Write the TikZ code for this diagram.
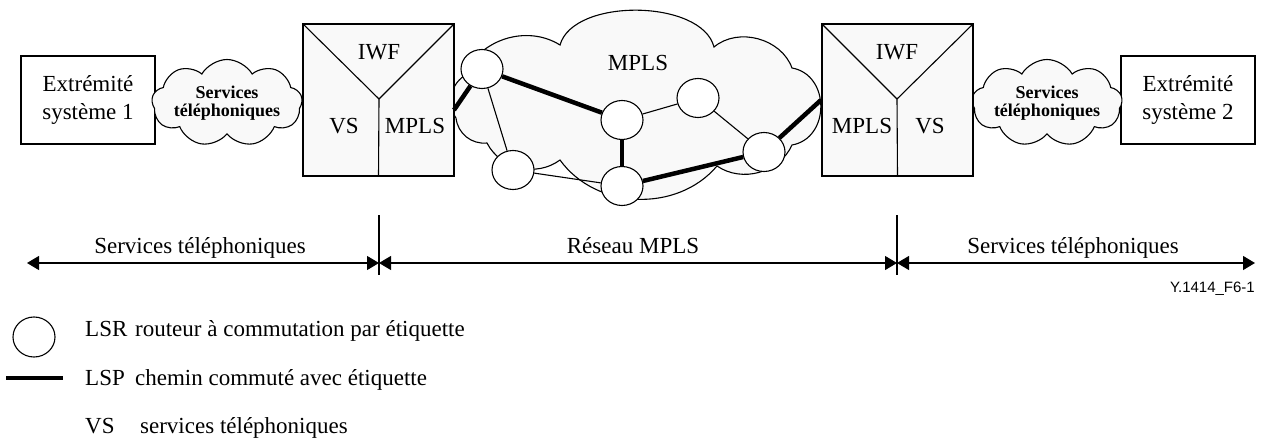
\documentclass[tikz,border=0pt]{standalone}
\usepackage{fontspec}
\setmainfont{Liberation Serif}
\newfontfamily\figsans{Liberation Sans}
\usetikzlibrary{arrows.meta,shapes.geometric,shapes.symbols}

\begin{document}
\begin{tikzpicture}[x=1pt,y=-1pt,
  lbl/.style={font=\fontsize{23}{28}\selectfont, inner sep=0pt},
  endbox/.style={draw, line width=1.2pt, minimum width=134pt, minimum height=88pt,
    align=center, lbl},
  gwbox/.style={draw, line width=1.2pt, fill=gray!5, minimum width=151pt, minimum height=152pt},
  svccloud/.style={cloud, cloud puffs=9, cloud puff arc=120, cloud ignores aspect,
    draw, line width=1.1pt, fill=gray!5, minimum width=145pt, minimum height=87pt,
    align=center, inner sep=0pt, font=\fontsize{18}{18}\selectfont\bfseries},
  lsr/.style={ellipse, draw, line width=1.1pt, fill=white, minimum width=42pt,
    minimum height=39pt, inner sep=0pt},
  lsp/.style={line width=4.5pt},
  link/.style={line width=1.1pt},
  span/.style={line width=1.1pt,
    {Triangle[length=12pt,width=14pt]}-{Triangle[length=12pt,width=14pt]}},
  legtext/.style={lbl, anchor=base west},
]
\useasboundingbox (0,0) rectangle (1263,441);

% MPLS core cloud
\path[draw, line width=1.1pt, fill=gray!5]
  (456,118) to[bend left=45] (464,76)
  to[bend left=50] (560,45)
  to[bend left=75, looseness=0.82] (714,47)
  to[bend left=55] (792,68)
  to[bend left=80, looseness=1.3] (792,145)
  to[bend left=50] (717,166)
  to[bend left=52] (560,160)
  to[bend left=50] (487,143)
  to[bend left=45] cycle;
\node[lbl] (mplslbl) at (638,63) {MPLS};

% end systems
\node[endbox] (eL) at (88,100) {Extrémité\\système 1};
\node[endbox] (eR) at (1188,100) {Extrémité\\système 2};

% telephony service clouds
\node[svccloud] (cL) at (227,103) {Services\\téléphoniques};
\node[svccloud] (cR) at (1047,103) {Services\\téléphoniques};

% interworking gateways
\node[gwbox] (gwL) at (378.5,100) {};
\coordinate (jL) at (379,99);
\draw[link] (gwL.north west) -- (jL) -- (gwL.north east) (jL) -- (gwL.south);
\node[lbl] (iwfL) at (379,52) {IWF};
\node[lbl] (vsL) at (344,126) {VS};
\node[lbl] (mpL) at (415,126) {MPLS};

\node[gwbox] (gwR) at (897.5,100) {};
\coordinate (jR) at (897,99);
\draw[link] (gwR.north west) -- (jR) -- (gwR.north east) (jR) -- (gwR.south);
\node[lbl] (iwfR) at (897,52) {IWF};
\node[lbl] (mpR) at (862,126) {MPLS};
\node[lbl] (vsR) at (930,126) {VS};

% label switching routers
\node[lsr] (n1) at (482,69) {};
\node[lsr] (n2) at (622,120) {};
\node[lsr] (n3) at (698,98) {};
\node[lsr] (n4) at (513,170) {};
\node[lsr] (n5) at (622,186) {};
\node[lsr] (n6) at (764,152) {};

% thin links
\draw[link] (n1) -- (n4);
\draw[link] (n4) -- (n5);
\draw[link] (n2) -- (n3);
\draw[link] (n3) -- (n6);

% label switched path
\coordinate (pL) at (454,110);
\coordinate (pR) at (821,100);
\draw[lsp] (pL) -- (n1);
\draw[lsp] (n1) -- (n2);
\draw[lsp] (n2) -- (n5);
\draw[lsp] (n5) -- (n6);
\draw[lsp] (n6) -- (pR);

% domain spans
\coordinate (aL) at (27,263);
\coordinate (t1) at (379,263);
\coordinate (t2) at (897,263);
\coordinate (aR) at (1255,263);
\coordinate (t1a) at (379,215);
\coordinate (t1b) at (379,275);
\coordinate (t2a) at (897,215);
\coordinate (t2b) at (897,275);
\draw[link] (t1a) -- (t1b);
\draw[link] (t2a) -- (t2b);
\draw[span] (aL) -- (t1);
\draw[span] (t1) -- (t2);
\draw[span] (t2) -- (aR);
\node[lbl, anchor=base] (s1) at (200,253) {Services téléphoniques};
\node[lbl, anchor=base] (s2) at (633,253) {Réseau MPLS};
\node[lbl, anchor=base] (s3) at (1073,253) {Services téléphoniques};

\node[anchor=east, inner sep=0pt, font=\figsans\fontsize{15}{18}\selectfont] (ref) at (1255,289) {Y.1414\_F6-1};

% legend
\node[lsr, minimum height=40pt] (kLSR) at (34,337) {};
\node[legtext] (tLSR) at (85,336) {\makebox[50pt][l]{LSR}routeur à commutation par étiquette};
\coordinate (kL1) at (6,378);
\coordinate (kL2) at (63,378);
\draw[lsp] (kL1) -- (kL2);
\node[legtext] (tLSP) at (85,385) {\makebox[50pt][l]{LSP}chemin commuté avec étiquette};
\node[legtext] (tVS) at (85,433) {\makebox[55pt][l]{VS}services téléphoniques};
\end{tikzpicture}
\end{document}
